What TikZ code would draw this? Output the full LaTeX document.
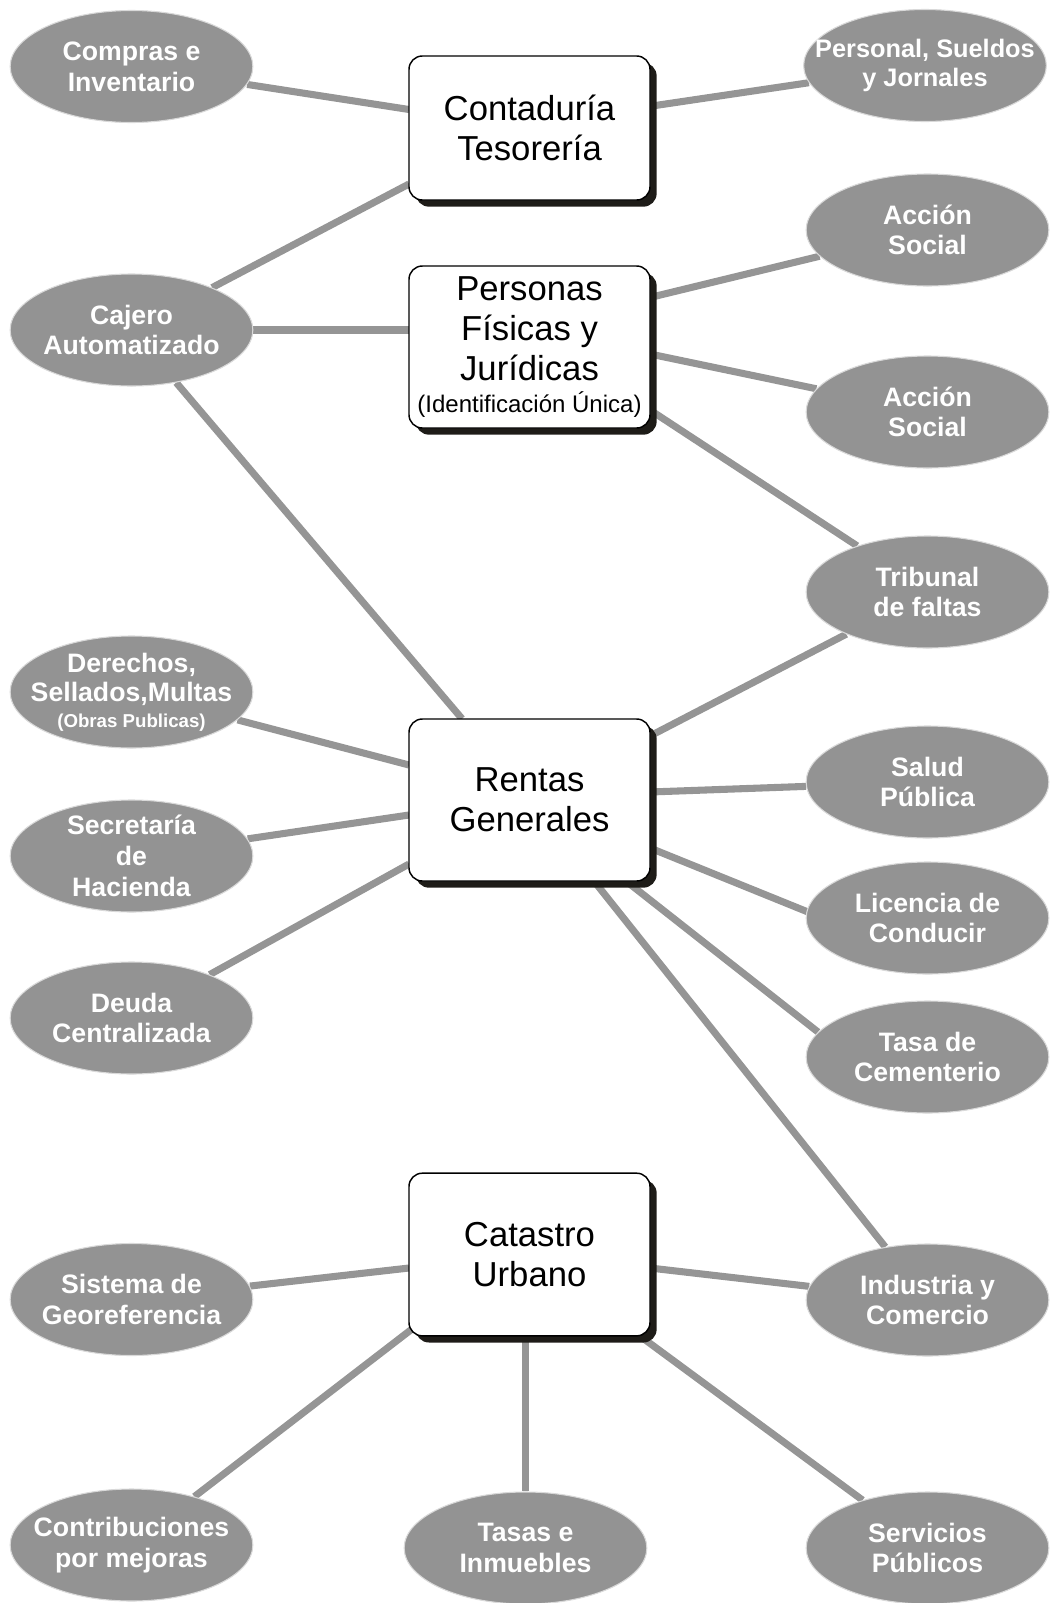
\documentclass[tikz,border=0pt]{standalone}
\usepackage{fontspec}
\setmainfont{Liberation Sans}
\usetikzlibrary{shapes.geometric,shadows,calc}
\pgfdeclarelayer{background}
\pgfsetlayers{background,main}
\definecolor{bubblefill}{HTML}{939393}
\definecolor{linkgray}{HTML}{959595}
\definecolor{shadecol}{HTML}{1E1C18}

\tikzset{
  bubble/.style={ellipse, fill=bubblefill, draw=white!65!bubblefill, line width=0.8pt,
    minimum width=182pt, minimum height=84pt, inner xsep=-60pt, inner ysep=-30pt,
    text=white, align=center,
    font=\fontsize{20}{23}\selectfont\bfseries},
  office/.style={rectangle, rounded corners=10pt, fill=white, draw=black, line width=1.1pt,
    minimum width=180.75pt, text=black, align=center, inner sep=0pt,
    font=\fontsize{26}{30}\selectfont,
    drop shadow={shadow xshift=5pt, shadow yshift=-5pt, fill=shadecol, opacity=1}},
  link/.style={draw=linkgray, line width=5.3pt},
}

\begin{document}
\begin{tikzpicture}[x=0.75pt,y=-0.75pt]
\useasboundingbox (0,0) rectangle (1051,1603);

% central offices
\node[office, minimum height=108pt] (cont) at (529.5,128) {Contaduría\\Tesorería};
\node[office, minimum height=121.5pt] (pers) at (529.5,347)
  {Personas\\Físicas y\\Jurídicas\\[-6pt]{\fontsize{18}{20}\selectfont(Identificación Única)}};
\node[office, minimum height=121.5pt] (rg) at (529.5,800) {Rentas\\Generales};
\node[office, minimum height=122pt] (cat) at (529.5,1254.5) {Catastro\\Urbano};

% left column
\node[bubble] (compras) at (131.5,66.5) {Compras e\\Inventario};
\node[bubble] (cajero) at (131.5,330) {Cajero\\Automatizado};
\node[bubble, font=\fontsize{20}{22}\selectfont\bfseries] (derechos) at (131.5,692)
  {Derechos,\\Sellados,Multas\\[-3pt]{\fontsize{14}{16}\selectfont(Obras Publicas)}};
\node[bubble] (secretaria) at (131.5,856) {Secretaría\\de\\Hacienda};
\node[bubble] (deuda) at (131.5,1018) {Deuda\\Centralizada};
\node[bubble] (sistema) at (131.5,1299.5) {Sistema de\\Georeferencia};
\node[bubble] (contrib) at (131.5,1545) {Contribuciones\\por mejoras};

% right column
\node[bubble, font=\fontsize{19}{22}\selectfont\bfseries] (personal) at (925,65.5) {Personal, Sueldos\\y Jornales};
\node[bubble] (accion1) at (927.5,230) {Acción\\Social};
\node[bubble] (accion2) at (927.5,412) {Acción\\Social};
\node[bubble] (tribunal) at (927.5,592) {Tribunal\\de faltas};
\node[bubble] (salud) at (927.5,782) {Salud\\Pública};
\node[bubble] (licencia) at (927.5,918) {Licencia de\\Conducir};
\node[bubble] (cementerio) at (927.5,1057) {Tasa de\\Cementerio};
\node[bubble] (industria) at (927.5,1300) {Industria y\\Comercio};
\node[bubble] (servicios) at (927.5,1548) {Servicios\\Públicos};

% bottom centre
\node[bubble] (tasas) at (525.5,1548) {Tasas e\\Inmuebles};

% attachment points on the office boxes
\coordinate (cont-w1) at (409,109.5);
\coordinate (cont-e1) at (650,106.3);
\coordinate (cont-w2) at (409,184);
\coordinate (pers-w1) at (409,330);
\coordinate (pers-e1) at (650,297.5);
\coordinate (pers-e2) at (650,354);
\coordinate (pers-e3) at (650,410);
\coordinate (rg-n1) at (462,718.7);
\coordinate (rg-w1) at (409,765);
\coordinate (rg-w2) at (409,815);
\coordinate (rg-w3) at (409,864);
\coordinate (rg-e1) at (650,736);
\coordinate (rg-e2) at (650,792);
\coordinate (rg-e3) at (650,848);
\coordinate (rg-s1) at (626,881);
\coordinate (rg-s2) at (594,881);
\coordinate (lic-w) at (808,912);
\coordinate (cem-w) at (818,1032);
\coordinate (cat-w1) at (409,1268);
\coordinate (cat-e1) at (650,1268);
\coordinate (cat-sw) at (412,1329);
\coordinate (cat-s1) at (525.5,1336);
\coordinate (cat-se) at (640,1336);

\begin{pgfonlayer}{background}
  \draw[link] (compras) -- (cont-w1);
  \draw[link] (personal) -- (cont-e1);
  \draw[link] (cajero) -- (cont-w2);
  \draw[link] (cajero) -- (pers-w1);
  \draw[link] (accion1) -- (pers-e1);
  \draw[link] (accion2) -- (pers-e2);
  \draw[link] (tribunal) -- (pers-e3);
  \draw[link] (cajero) -- (rg-n1);
  \draw[link] (derechos) -- (rg-w1);
  \draw[link] (secretaria) -- (rg-w2);
  \draw[link] (deuda) -- (rg-w3);
  \draw[link] (tribunal) -- (rg-e1);
  \draw[link] (salud) -- (rg-e2);
  \draw[link] (rg-e3) -- (lic-w);
  \draw[link] (rg-s1) -- (cem-w);
  \draw[link] (rg-s2) -- (industria);
  \draw[link] (sistema) -- (cat-w1);
  \draw[link] (industria) -- (cat-e1);
  \draw[link] (contrib) -- (cat-sw);
  \draw[link] (tasas) -- (cat-s1);
  \draw[link] (servicios) -- (cat-se);
\end{pgfonlayer}
\end{tikzpicture}
\end{document}
